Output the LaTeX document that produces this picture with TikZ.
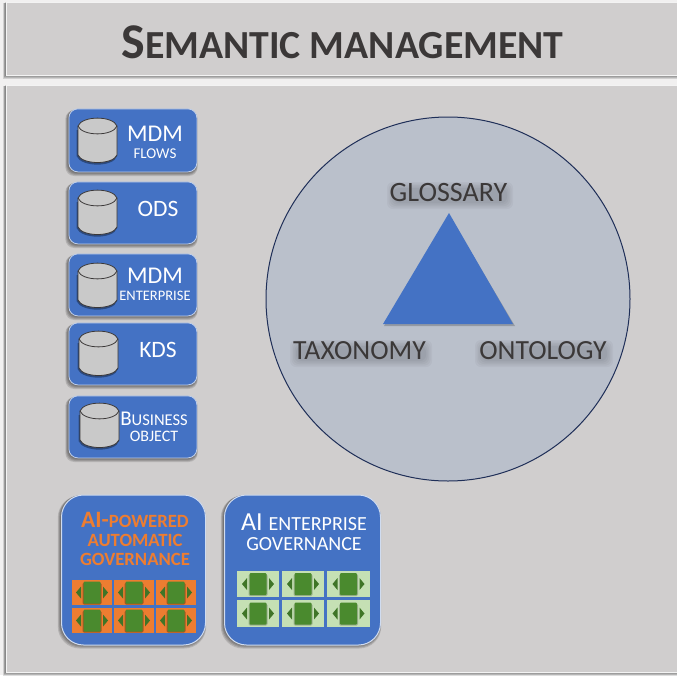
\documentclass[tikz,border=0pt]{standalone}
\usepackage{fontspec}
\setmainfont{Carlito}
\definecolor{panel}{HTML}{D0CECE}
\definecolor{blue1}{HTML}{4472C4}
\definecolor{ciro}{HTML}{BAC0CB}
\definecolor{navy1}{HTML}{1F2F58}
\definecolor{ink}{HTML}{3B3838}
\definecolor{orange1}{HTML}{ED7D31}
\definecolor{green1}{HTML}{4A8A2E}
\definecolor{lgreen}{HTML}{C5E0B4}
\definecolor{cyl}{HTML}{C9C9C9}
\newcommand{\fs}[1]{\fontsize{#1}{#1}\selectfont}
\tikzset{
  x=1pt,y=-1pt,
  panelbox/.style={fill=panel,draw=white!75!panel,line width=1.2pt},
  bluebox/.style={fill=blue1,draw=white!65!blue1,line width=.8pt,rounded corners=9pt},
  govbox/.style={fill=blue1,draw=white!75!blue1,line width=1pt,rounded corners=22pt},
  lab/.style={inner sep=0,align=center,text=white},
  circlab/.style={inner sep=0,text=ink},
}
\newcommand{\softrect}[5]{% x1 y1 x2 y2 radius
  \foreach \g in {4,3,2,1}{
    \fill[black,opacity=.13,rounded corners=#5]
      (#1-\g*.8,#2+\g*.3) rectangle (#3+\g*.3,#4+\g*1);}
}
\newcommand{\textglow}[4]{% x1 y1 x2 y2
  \foreach \g in {0,1.5,3,4.5,6}{
    \fill[black,opacity=.03,rounded corners=6pt]
      (#1-3+\g,#2-1+\g) rectangle (#3+6-\g,#4+7-\g);}
}
\newcommand{\cylinder}[3]{% name, x-left, y-top
  \begin{scope}[shift={(#2,#3)}]
    \fill[black,opacity=.35] (-1.5,12) -- (-1.5,38)
      .. controls (3,49.5) and (36,49.5) .. (39,38) -- (39,12) -- cycle;
    \draw[fill=cyl,draw=ink,line width=.8pt] (0,8) -- (0,37)
      .. controls (4,47) and (35,47) .. (39,37) -- (39,8) .. controls (35,-2.5) and (4,-2.5) .. (0,8) -- cycle;
    \draw[draw=ink,line width=.8pt] (0,8) .. controls (4,18.5) and (35,18.5) .. (39,8);
  \end{scope}
}
\newcommand{\dbbox}[3]{% name, top, bottom
  \softrect{68.5}{#2}{196.5}{#3}{9pt}
  \node[bluebox,minimum width=128pt,minimum height={(#3-#2)*1pt},inner sep=0,anchor=north west] (#1) at (68.5,#2-.5) {};
}
\newcommand{\cell}[6]{% x1 y1 x2 y2 bg shadow-tone
  \fill[#5] (#1,#2) rectangle (#3,#4);
  \pgfmathsetmacro{\cx}{(#1+#3)/2}
  \pgfmathsetmacro{\cy}{(#2+#4)/2}
  \fill[#6,opacity=.5,rounded corners=1.5pt] (\cx-9.5,\cy-10) rectangle (\cx+9.5,\cy+12);
  \fill[green1,rounded corners=1pt] (\cx-8.5,\cy-11) rectangle (\cx+8.5,\cy+11);
  \fill[green1!85!black] (\cx-11,\cy-6) -- (\cx-16,\cy) -- (\cx-11,\cy+6) -- cycle;
  \fill[green1!85!black] (\cx+11,\cy-6) -- (\cx+16,\cy) -- (\cx+11,\cy+6) -- cycle;
}
\begin{document}
\begin{tikzpicture}
\useasboundingbox (0,0) rectangle (677,675);
\fill[white!70!panel] (0,0) rectangle (677,675);
% panels
\softrect{6}{2}{680}{75}{0pt}
\softrect{6}{85}{680}{672}{0pt}
\node[panelbox,minimum width=675pt,minimum height=73pt,inner sep=0,anchor=north west] (head) at (6,2) {};
\node[panelbox,minimum width=675pt,minimum height=587pt,inner sep=0,anchor=north west] (body) at (6,85) {};
\node[inner sep=0,text=ink,font=\bfseries] (title) at (342.5,42) {\fs{50}S\fs{39.8}EMANTIC MANAGEMENT};
% circle
\node[circle,fill=ciro,draw=navy1,line width=1pt,minimum size=364pt,inner sep=0] (circ) at (448,299) {};
\fill[black,opacity=.2] (449,215) -- (515,326) -- (384,326) -- cycle;
\fill[blue1] (449,213) -- (513,324) -- (383,324) -- cycle;
\textglow{390}{183}{507}{202}
\textglow{293}{341}{426}{360}
\textglow{478}{341}{607}{360}
\node[circlab] (glossary) at (448.5,192.5) {\fs{28}GLOSSARY};
\node[circlab] (taxonomy) at (359.5,350.5) {\fs{27.7}TAXONOMY};
\node[circlab] (ontology) at (543,350.5) {\fs{27.7}ONTOLOGY};
% db boxes
\dbbox{b1}{109}{172}
\dbbox{b2}{182}{244}
\dbbox{b3}{254}{316}
\dbbox{b4}{323}{385}
\dbbox{b5}{396}{458}
\cylinder{c1}{78}{118}
\cylinder{c2}{78}{190}
\cylinder{c3}{78}{263}
\cylinder{c4}{79}{331}
\cylinder{c5}{80}{403}
\node[lab] (t1a) at (155,134) {\fs{24}MDM};
\node[lab] (t1b) at (155,153.5) {\fs{15}FLOWS};
\node[lab] (t2) at (158,208.5) {\fs{23.5}ODS};
\node[lab] (t3a) at (155,276) {\fs{24}MDM};
\node[lab] (t3b) at (155,295.5) {\fs{14.5}ENTERPRISE};
\node[lab] (t4) at (158,350) {\fs{23.5}KDS};
\node[lab] (t5a) at (154,419) {\fs{21}B\fs{16.5}USINESS};
\node[lab] (t5b) at (154,436.5) {\fs{16}OBJECT};
% governance boxes
\softrect{61}{494.5}{205}{644.5}{22pt}
\softrect{224}{494.5}{380}{644.5}{22pt}
\node[govbox,minimum width=144pt,minimum height=150pt,inner sep=0,anchor=north west] (g1) at (61,494.5) {};
\node[govbox,minimum width=156pt,minimum height=150pt,inner sep=0,anchor=north west] (g2) at (224,494.5) {};
\node[lab,text=orange1,font=\bfseries] (g1a) at (135,520) {\fs{23.5}AI-\fs{18.7}POWERED};
\node[lab,text=orange1,font=\bfseries] (g1b) at (135,540) {\fs{18.7}AUTOMATIC};
\node[lab,text=orange1,font=\bfseries] (g1c) at (135,559) {\fs{18.7}GOVERNANCE};
\node[lab] (g2a) at (304,522) {\fs{26}AI \fs{20}ENTERPRISE};
\node[lab] (g2b) at (304,544) {\fs{20}GOVERNANCE};
\foreach \xa/\xb in {72/112,114/154,156/196}
  \foreach \ya/\yb in {580/605,608/633}
    {\cell{\xa}{\ya}{\xb}{\yb}{orange1}{black!60!orange1}}
\foreach \xa/\xb in {237/279,282/324,327/370}
  \foreach \ya/\yb in {571/597,600/627}
    {\cell{\xa}{\ya}{\xb}{\yb}{lgreen}{black!40!lgreen}}
\end{tikzpicture}
\end{document}
